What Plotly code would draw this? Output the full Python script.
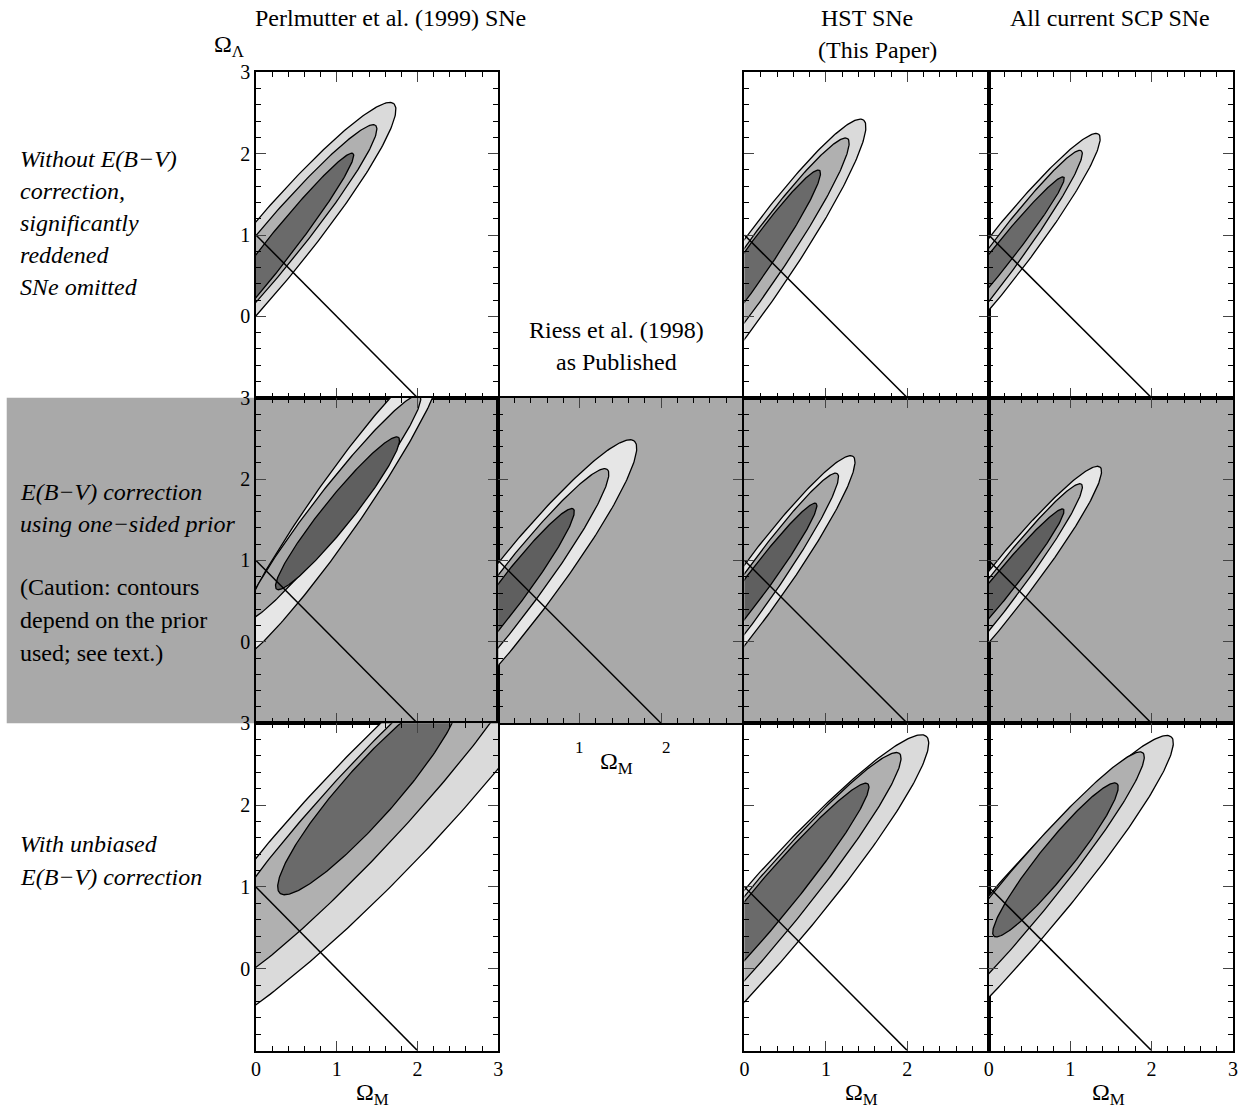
import numpy as np
import plotly.graph_objects as go

# contour ellipses per panel: (row, col) -> list of (cx, cy, a, b, angle_deg), outer -> inner
panels = {
    (1, 1): [(0.10, 0.70, 2.50, 0.38, 50), (0.10, 0.70, 2.15, 0.27, 50), (0.15, 0.68, 1.69, 0.17, 51.5)],
    (1, 3): [(0.05, 0.40, 2.46, 0.36, 55), (0.05, 0.45, 2.12, 0.27, 55), (0.05, 0.55, 1.52, 0.18, 55)],
    (1, 4): [(0.10, 0.64, 2.03, 0.28, 52), (0.10, 0.64, 1.74, 0.20, 53.4), (0.10, 0.68, 1.32, 0.13, 51.5)],
    (2, 1): [(0.98, 1.61, 2.30, 0.32, 55), (0.95, 1.65, 1.75, 0.22, 52), (1.01, 1.58, 1.20, 0.18, 51)],
    (2, 2): [(0.10, 0.46, 2.55, 0.40, 52), (0.10, 0.50, 2.04, 0.28, 52.6), (0.10, 0.55, 1.36, 0.18, 52.8)],
    (2, 3): [(0.10, 0.58, 2.10, 0.30, 54), (0.10, 0.60, 1.80, 0.22, 54.7), (0.10, 0.65, 1.31, 0.15, 53.4)],
    (2, 4): [(0.10, 0.55, 2.04, 0.28, 51.6), (0.10, 0.58, 1.71, 0.20, 52.6), (0.10, 0.62, 1.30, 0.14, 51)],
    (3, 1): [(1.50, 1.90, 4.00, 0.75, 46), (1.40, 2.00, 3.20, 0.50, 47), (1.40, 2.15, 1.65, 0.33, 48)],
    (3, 3): [(0.20, 0.50, 3.10, 0.46, 49), (0.20, 0.60, 2.65, 0.34, 50), (0.25, 0.75, 1.97, 0.24, 50)],
    (3, 4): [(0.30, 0.60, 2.96, 0.42, 49), (0.35, 0.80, 2.40, 0.31, 50), (0.82, 1.33, 1.20, 0.20, 51)],
}
fills_white = ["#dadada", "#b0b0b0", "#6a6a6a"]
fills_gray = ["#e6e6e6", "#a9a9a9", "#5f5f5f"]
flat_x = [0, 2]
flat_y = [1, -1]

W, H = 1243, 1112
col_px = {1: (255, 498), 2: (498, 743), 3: (745, 990), 4: (990, 1235)}
row_px = {1: (70, 396), 2: (396, 722), 3: (722, 1050)}


# small correction for how the page is rendered/captured
def fx(p):
    return (255 + (p - 257) / 0.995) / W


def fy(p):
    return 1 - (1050 - (1050 - p) * 1.0082) / H


fig = go.Figure()
layout = {}
t = np.linspace(0, 2 * np.pi, 300)
for i, ((r, c), ells) in enumerate(sorted(panels.items()), start=1):
    sx = "" if i == 1 else str(i)
    x0, x1 = col_px[c]
    y0, y1 = row_px[r]
    xt = ["0", "1", "2", ""] if c == 3 else ["0", "1", "2", "3"]
    layout["xaxis" + sx] = dict(
        domain=[fx(x0), fx(x1)], anchor="y" + sx, range=[0, 3],
        tickvals=[0, 1, 2, 3], ticktext=xt, showticklabels=(r == 3),
        ticks="inside", ticklen=10,
        minor=dict(dtick=0.2, ticks="inside", ticklen=5, tickcolor="black"),
        showline=True, linecolor="black", linewidth=1.5, mirror="ticks",
        showgrid=False, zeroline=False, tickfont=dict(size=20))
    layout["yaxis" + sx] = dict(
        domain=[fy(y1), fy(y0)], anchor="x" + sx, range=[-1, 3],
        tickvals=[0, 1, 2, 3], showticklabels=(c == 1), ticks="inside", ticklen=10,
        minor=dict(dtick=0.2, ticks="inside", ticklen=5, tickcolor="black"),
        showline=True, linecolor="black", linewidth=1.5, mirror="ticks",
        showgrid=False, zeroline=False, tickfont=dict(size=20))
    fills = fills_gray if r == 2 else fills_white
    for (cx, cy, a, b, ang), col in zip(ells, fills):
        th = np.radians(ang)
        ex = cx + a * np.cos(t) * np.cos(th) - b * np.sin(t) * np.sin(th)
        ey = cy + a * np.cos(t) * np.sin(th) + b * np.sin(t) * np.cos(th)
        fig.add_trace(go.Scatter(x=ex, y=ey, mode="lines", fill="toself", fillcolor=col,
                                 line=dict(color="black", width=1.3),
                                 xaxis="x" + sx, yaxis="y" + sx, hoverinfo="skip"))
    fig.add_trace(go.Scatter(x=flat_x, y=flat_y, mode="lines", line=dict(color="black", width=1.5),
                             xaxis="x" + sx, yaxis="y" + sx, hoverinfo="skip"))

fig.update_layout(**layout)

# gray band for the middle row
fig.add_shape(type="rect", xref="paper", yref="paper", x0=fx(5), x1=fx(1235),
              y0=fy(722), y1=fy(396), fillcolor="#a9a9a9", line_width=0, layer="below")

font = dict(family="Liberation Serif, Times New Roman, serif", size=24, color="black")
texts = [
    (390, 16, "Perlmutter et al. (1999) SNe", "center"),
    (868, 16, "HST SNe", "center"),
    (878, 48, "(This Paper)", "center"),
    (1112, 16, "All current SCP SNe", "center"),
    (228, 44, "Ω<sub>Λ</sub>", "center"),
    (617, 328, "Riess et al. (1998)", "center"),
    (617, 360, "as Published", "center"),
    (16, 157, "<i>Without E(B−V)</i>", "left"),
    (16, 189, "<i>correction,</i>", "left"),
    (16, 221, "<i>significantly</i>", "left"),
    (16, 253, "<i>reddened</i>", "left"),
    (16, 285, "<i>SNe omitted</i>", "left"),
    (16, 490, "<i>E(B−V) correction</i>", "left"),
    (16, 522, "<i>using one−sided prior</i>", "left"),
    (16, 586, "(Caution: contours", "left"),
    (16, 619, "depend on the prior", "left"),
    (16, 652, "used; see text.)", "left"),
    (16, 843, "<i>With unbiased</i>", "left"),
    (16, 876, "<i>E(B−V) correction</i>", "left"),
    (372, 1093, "Ω<sub>M</sub>", "center"),
    (862, 1093, "Ω<sub>M</sub>", "center"),
    (1110, 1093, "Ω<sub>M</sub>", "center"),
    (617, 762, "Ω<sub>M</sub>", "center"),
    (580, 746, "1", "center"),
    (667, 746, "2", "center"),
]
for x, y, s, al in texts:
    fig.add_annotation(x=fx(x), y=fy(y), xref="paper", yref="paper", text=s,
                       showarrow=False, xanchor=al, yanchor="middle",
                       font=font if s not in ("1", "2") else dict(font, size=17))

fig.update_layout(width=W, height=H, margin=dict(l=0, r=0, t=0, b=0),
                  paper_bgcolor="white", plot_bgcolor="rgba(0,0,0,0)", showlegend=False,
                  font=font)
fig.write_html("out.html", config={"displayModeBar": False},
               post_script="document.body.style.margin='0';")
